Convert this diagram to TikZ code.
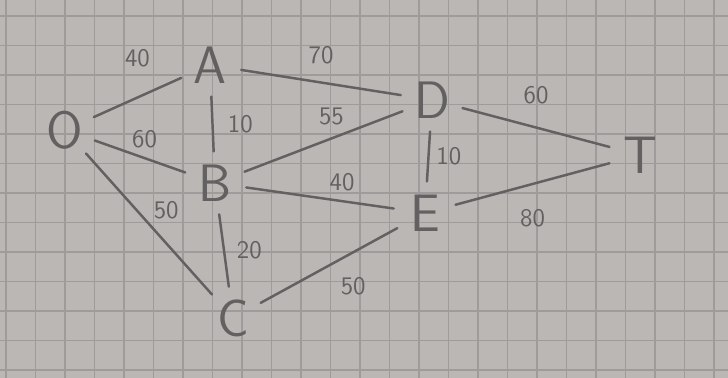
\documentclass[tikz,border=0pt]{standalone}
\usetikzlibrary{positioning}

\definecolor{paper}{RGB}{186,183,181}
\definecolor{gridline}{RGB}{158,155,154}
\definecolor{pencil}{RGB}{98,96,96}

\begin{document}
\begin{tikzpicture}[
    x=0.02cm, y=-0.02cm,
    vertex/.style={
        circle, minimum size=1.25cm, inner sep=0pt,
        text=pencil, font=\sffamily\fontsize{30}{32}\selectfont
    },
    edge/.style={draw=pencil, line width=1.4pt, line cap=round},
    weight/.style={text=pencil, font=\sffamily\Large, inner sep=1pt}
]

% paper
\useasboundingbox (0,0) rectangle (728,378);
\fill[paper] (0,0) rectangle (728,378);
\foreach \gx in {6,35.5,...,728} \draw[gridline, line width=0.8pt] (\gx,0) -- (\gx,378);
\foreach \gy in {16,45.5,...,378} \draw[gridline, line width=0.8pt] (0,\gy) -- (728,\gy);

% vertices
\node[vertex] (O) at (65,130) {O};
\node[vertex] (A) at (210,65) {A};
\node[vertex] (B) at (215,183) {B};
\node[vertex] (C) at (233,318) {C};
\node[vertex] (D) at (432,100) {D};
\node[vertex] (E) at (425,213) {E};
\node[vertex] (T) at (640,155) {T};

% edges with weights
\draw[edge] (O) -- node[weight, pos=0.5, above=0.55cm] {40} (A);
\draw[edge] (A) -- node[weight, pos=0.5, above=0.3cm] {70} (D);
\draw[edge] (O) -- node[weight, pos=0.55, above=0.15cm] {60} (B);
\draw[edge] (A) -- node[weight, pos=0.5, right=0.25cm] {10} (B);
\draw[edge] (O) -- node[weight, pos=0.5, above right=0.05cm] {50} (C);
\draw[edge] (B) -- node[weight, pos=0.55, above=0.2cm] {55} (D);
\draw[edge] (B) -- node[weight, pos=0.65, above=0.15cm] {40} (E);
\draw[edge] (B) -- node[weight, pos=0.5, right=0.2cm] {20} (C);
\draw[edge] (D) -- node[weight, pos=0.5, right=0.1cm] {10} (E);
\draw[edge] (C) -- node[weight, pos=0.5, below right=0.25cm] {50} (E);
\draw[edge] (D) -- node[weight, pos=0.5, above=0.4cm] {60} (T);
\draw[edge] (E) -- node[weight, pos=0.5, below=0.45cm] {80} (T);

\end{tikzpicture}
\end{document}
